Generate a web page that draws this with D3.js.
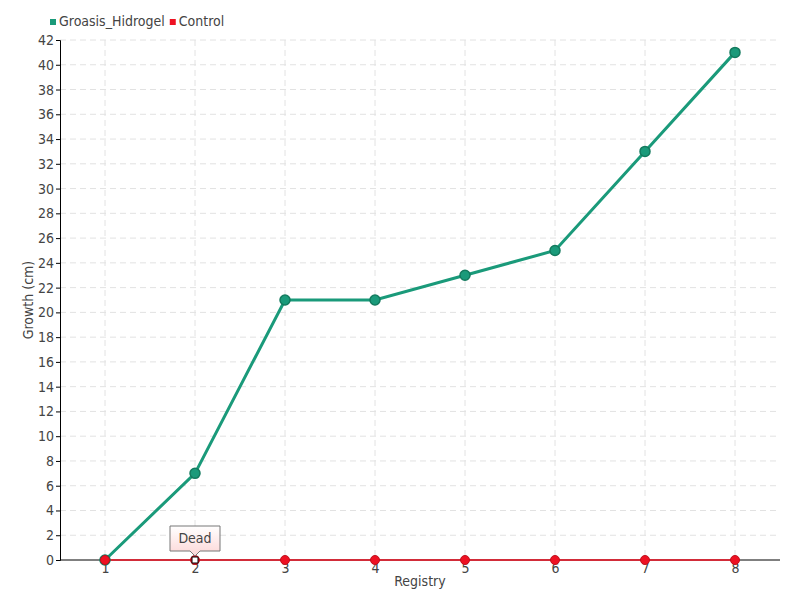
<!DOCTYPE html>
<html><head><meta charset="utf-8">
<script src="https://cdn.jsdelivr.net/npm/d3@7"></script>
<style>
body{margin:0;background:#fff;}
text{font-family:"DejaVu Sans Condensed","Roboto Condensed","Liberation Sans Narrow",sans-serif;fill:#444;}
</style></head>
<body>
<svg id="c" width="800" height="600"></svg>
<script>
const categories = ["1","2","3","4","5","6","7","8"];
const groasis = [0,7,21,21,23,25,33,41];
const control = [0,0,0,0,0,0,0,0];
const yTicks = d3.range(0,43,2);
const seriesNames = ["Groasis_Hidrogel","Control"];
const colors = ["#1a9a7a","#ee1122"];
const annotation = {index:1, text:"Dead"};

const svg = d3.select("#c");
const m = {l:60, r:20, t:40, b:40};
const W = 800, H = 600;
const x = d3.scalePoint().domain(categories).range([m.l, W-m.r]).padding(0.5);
const y = d3.scaleLinear().domain([0,42]).range([H-m.b, m.t]);

// grid
svg.append("g").selectAll("line").data(yTicks.filter(d=>d>0)).join("line")
  .attr("x1",m.l).attr("x2",W-m.r).attr("y1",d=>y(d)).attr("y2",d=>y(d))
  .attr("stroke","#e2e2e2").attr("stroke-dasharray","6,4");
svg.append("g").selectAll("line").data(categories).join("line")
  .attr("x1",d=>x(d)).attr("x2",d=>x(d)).attr("y1",m.t).attr("y2",H-m.b)
  .attr("stroke","#e2e2e2").attr("stroke-dasharray","6,4");

// axes
const ya = svg.append("g").attr("transform",`translate(${m.l},0)`)
  .call(d3.axisLeft(y).tickValues(yTicks).tickSize(4).tickPadding(2));
ya.select(".domain").attr("stroke","#000");
ya.selectAll(".tick line").attr("stroke","#000");
ya.selectAll("text").style("font-size","14px").attr("fill","#555");
const xa = svg.append("g").attr("transform",`translate(0,${H-m.b})`)
  .call(d3.axisBottom(x).tickSize(0).tickPadding(3).tickSizeOuter(0));
xa.select(".domain").attr("stroke","#000").attr("d",`M${m.l},0H${W-m.r}`);
xa.selectAll("text").style("font-size","14px").attr("fill","#555");

svg.append("text").attr("x",(m.l+W-m.r)/2).attr("y",586).attr("text-anchor","middle")
  .style("font-size","14px").text("Registry");
svg.append("text").attr("transform",`translate(33,${(m.t+H-m.b)/2}) rotate(-90)`)
  .attr("text-anchor","middle").style("font-size","14px").text("Growth (cm)");

// lines
const line = d3.line().x((d,i)=>x(categories[i])).y(d=>y(d));
svg.append("path").datum(control).attr("d",line).attr("fill","none")
  .attr("stroke",colors[1]).attr("stroke-width",1.5);
svg.append("path").datum(groasis).attr("d",line).attr("fill","none")
  .attr("stroke",colors[0]).attr("stroke-width",3);
svg.append("g").selectAll("circle").data(groasis).join("circle")
  .attr("cx",(d,i)=>x(categories[i])).attr("cy",d=>y(d)).attr("r",5)
  .attr("fill",colors[0]).attr("stroke","#137a5e").attr("stroke-width",1.5);
svg.append("g").selectAll("circle").data(control).join("circle")
  .attr("cx",(d,i)=>x(categories[i])).attr("cy",d=>y(d)).attr("r",4.5)
  .attr("fill",colors[1]).attr("stroke","#c0101c").attr("stroke-width",1);

// annotation
const ax = x(categories[annotation.index]), ay = y(control[annotation.index]);
svg.append("rect").attr("x",ax-3).attr("y",ay-3).attr("width",6).attr("height",6)
  .attr("fill","#fff").attr("stroke","#000").attr("stroke-width",1);
const defs = svg.append("defs");
const gr = defs.append("linearGradient").attr("id","tg").attr("x1",0).attr("y1",0).attr("x2",0).attr("y2",1);
gr.append("stop").attr("offset","0%").attr("stop-color","#ffffff");
gr.append("stop").attr("offset","100%").attr("stop-color","#fcd6d6");
const bw=50, bh=25, bx=ax-25, by=ay-34;
svg.append("path")
  .attr("d",`M${bx},${by}H${bx+bw}V${by+bh}H${ax+5}L${ax},${by+bh+5}L${ax-5},${by+bh}H${bx}Z`)
  .attr("fill","url(#tg)").attr("stroke","#777").attr("stroke-width",1);
svg.append("text").attr("x",ax).attr("y",by+17).attr("text-anchor","middle")
  .style("font-size","14px").attr("fill","#444").text(annotation.text);

// legend
const lg = svg.append("g");
let lx = 50;
seriesNames.forEach((n,i)=>{
  lg.append("rect").attr("x",lx).attr("y",19).attr("width",6).attr("height",6).attr("fill",colors[i]);
  const t = lg.append("text").attr("x",lx+9).attr("y",26).style("font-size","14px").attr("fill","#444").text(n);
  lx += 9 + t.node().getComputedTextLength() + 5;
});
</script>
</body></html>
